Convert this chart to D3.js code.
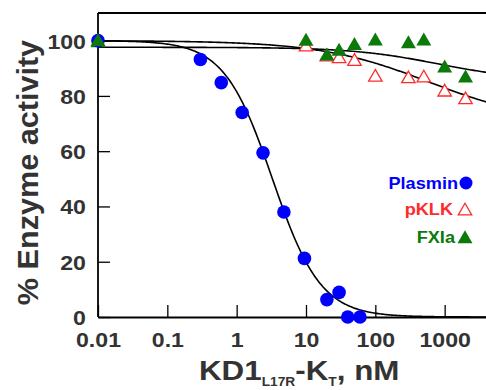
<!DOCTYPE html>
<html><head><meta charset="utf-8">
<script src="https://cdn.jsdelivr.net/npm/d3@7"></script>
<style>
html,body{margin:0;padding:0;background:#fff;overflow:hidden;}
svg{display:block;font-family:"Liberation Sans",Arial,sans-serif;}
</style></head>
<body><svg id="c" width="486" height="390"></svg>
<script>
// ---- data ----
const plasminConc = [0.01, 0.3, 0.6, 1.2, 2.4, 4.8, 9.5, 20, 30, 40, 60];
const plasminAct  = [100, 93.2, 84.8, 74.0, 59.4, 38.0, 21.2, 6.3, 8.9, 0, 0];
const pklkConc = [10, 20, 30, 50, 100, 300, 500, 1000, 2000];
const pklkAct  = [98.4, 94.8, 94.2, 93.2, 87.5, 86.9, 87.2, 82.1, 79.3];
const fxiaConc = [0.01, 10, 20, 30, 50, 100, 300, 500, 1000, 2000];
const fxiaAct  = [100, 100.5, 95.2, 96.9, 99.0, 100.6, 99.6, 100.6, 90.8, 87.2];
const xTickValues = [0.01, 0.1, 1, 10, 100, 1000];
const xTickLabels = ["0.01", "0.1", "1", "10", "100", "1000"];
const yTickValues = [0, 20, 40, 60, 80, 100];
const legendNames = ["Plasmin", "pKLK", "FXIa"];
// fitted-curve parameters (as drawn)
const plasminFit = {top: 100, ic50: 3.28, hill: 1.25};
const pklkFit = {top: 100, amp: 30, k: 600, hill: 0.55};
const fxiaFit = {top: 97.6, amp: 12, k: 800, hill: 0.7};

const svg = d3.select("#c");
const x = d3.scaleLog().domain([0.01, 10000]).range([98, 514]);
const y = d3.scaleLinear().domain([0, 110]).range([317, 13]);
const SX = 1.1;
const txt = "#333";

// curves
const xs = d3.range(-2, 4.001, 0.02).map(e => Math.pow(10, e));
const curves = [
  c => plasminFit.top / (1 + Math.pow(c / plasminFit.ic50, plasminFit.hill)),
  c => pklkFit.top - pklkFit.amp * Math.pow(c, pklkFit.hill) / (Math.pow(pklkFit.k, pklkFit.hill) + Math.pow(c, pklkFit.hill)),
  c => fxiaFit.top - fxiaFit.amp * Math.pow(c, fxiaFit.hill) / (Math.pow(fxiaFit.k, fxiaFit.hill) + Math.pow(c, fxiaFit.hill))
];
const line = d3.line().x(d => x(d[0])).y(d => y(d[1])).curve(d3.curveLinear);
curves.forEach(f => {
  svg.append("path").attr("d", line(xs.map(c => [c, f(c)])))
    .attr("fill", "none").attr("stroke", "#000").attr("stroke-width", 1.6);
});

// axes
const minorX = [];
for (let e = -2; e < 4; e++) for (let m = 2; m <= 9; m++) minorX.push(m * Math.pow(10, e));
const gx = svg.append("g").attr("transform", "translate(0,317)");
gx.call(d3.axisBottom(x).tickValues(minorX).tickSize(-7).tickSizeOuter(0).tickFormat(""));
gx.call(d3.axisBottom(x).tickValues(xTickValues).tickSize(-12).tickSizeOuter(0)
  .tickFormat((d, i) => xTickLabels[i]));
gx.selectAll("path.domain").attr("stroke", "#000").attr("stroke-width", 1.8);
gx.selectAll(".tick line").attr("stroke", "#000").attr("stroke-width", 1.3);
gx.selectAll(".tick text").attr("y", 30).attr("dy", 0)
  .attr("transform", `scale(${SX},1)`)
  .attr("font-size", 21).attr("font-weight", "bold").attr("fill", txt)
  .attr("font-family", "Liberation Sans, Arial, sans-serif");

const gy = svg.append("g").attr("transform", "translate(98,0)");
gy.call(d3.axisLeft(y).tickValues([10, 30, 50, 70, 90]).tickSize(-8).tickSizeOuter(0).tickFormat(""));
gy.call(d3.axisLeft(y).tickValues(yTickValues).tickSize(-12).tickSizeOuter(0));
gy.select("path.domain").remove();
gy.append("line").attr("x1", 0).attr("x2", 0).attr("y1", 13).attr("y2", 317)
  .attr("stroke", "#000").attr("stroke-width", 1.8);
gy.selectAll(".tick line").attr("stroke", "#000").attr("stroke-width", 1.3);
gy.selectAll(".tick text").attr("x", -11).attr("dy", 0).attr("y", 7.5)
  .attr("transform", `scale(${SX},1)`)
  .attr("font-size", 21).attr("font-weight", "bold").attr("fill", txt)
  .attr("font-family", "Liberation Sans, Arial, sans-serif");

// top frame
svg.append("line").attr("x1", x(0.01)).attr("x2", x(10000)).attr("y1", y(110)).attr("y2", y(110))
  .attr("stroke", "#000").attr("stroke-width", 1.8);

// markers
const triBig = d3.symbol().type(d3.symbolTriangle).size(97);
const triSm = d3.symbol().type(d3.symbolTriangle).size(78);
const RED = "#ff2a2a", GREEN = "#0b7a0b", BLUE = "#0000ff";

svg.append("g").selectAll("path").data(pklkConc.map((c, i) => [c, pklkAct[i]])).join("path")
  .attr("d", triSm()).attr("transform", d => `translate(${x(d[0])},${y(d[1]) + 2})`)
  .attr("fill", "#fff").attr("stroke", RED).attr("stroke-width", 1.3);
svg.append("g").selectAll("path").data(fxiaConc.map((c, i) => [c, fxiaAct[i]])).join("path")
  .attr("d", triBig()).attr("transform", d => `translate(${x(d[0])},${y(d[1]) + 2.2})`)
  .attr("fill", GREEN);
svg.append("g").selectAll("circle").data(plasminConc.map((c, i) => [c, plasminAct[i]])).join("circle")
  .attr("cx", d => x(d[0])).attr("cy", d => y(d[1])).attr("r", 6.8).attr("fill", BLUE);
// re-draw the 0.01 FXIa triangle on top of the plasmin circle
svg.append("path").attr("d", triBig()).attr("transform", `translate(${x(fxiaConc[0])},${y(fxiaAct[0]) + 1})`)
  .attr("fill", GREEN);

// legend
const lg = svg.append("g");
const legendColors = [BLUE, RED, GREEN];
const legendY = [189, 215, 243];
const legendRight = [458, 453, 455];
legendNames.forEach((n, i) => {
  lg.append("text").attr("transform", `translate(${legendRight[i]},${legendY[i]}) scale(${SX},1)`)
    .attr("text-anchor", "end").attr("font-size", 16.5).attr("font-weight", "bold")
    .attr("fill", legendColors[i]).text(n);
});
lg.append("circle").attr("cx", 466).attr("cy", 183).attr("r", 6.5).attr("fill", BLUE);
lg.append("path").attr("d", triSm()).attr("transform", "translate(465,211)")
  .attr("fill", "#fff").attr("stroke", RED).attr("stroke-width", 1.3);
lg.append("path").attr("d", triBig()).attr("transform", "translate(465,239)").attr("fill", GREEN);

// axis titles
const xt = svg.append("text").attr("transform", `translate(199,380) scale(${SX},1)`)
  .attr("font-size", 28.5).attr("font-weight", "bold").attr("fill", txt);
xt.append("tspan").text("KD1");
xt.append("tspan").attr("font-size", 12.5).attr("dy", 6).text("L17R");
xt.append("tspan").attr("dy", -6).text("-K");
xt.append("tspan").attr("font-size", 12.5).attr("dy", 6).text("T");
xt.append("tspan").attr("dy", -6).text(", nM");

svg.append("text").attr("transform", "translate(37.5,172.5) rotate(-90) scale(1.02,1)")
  .attr("text-anchor", "middle").attr("font-size", 30).attr("font-weight", "bold")
  .attr("fill", txt).text("% Enzyme activity");
</script></body></html>
